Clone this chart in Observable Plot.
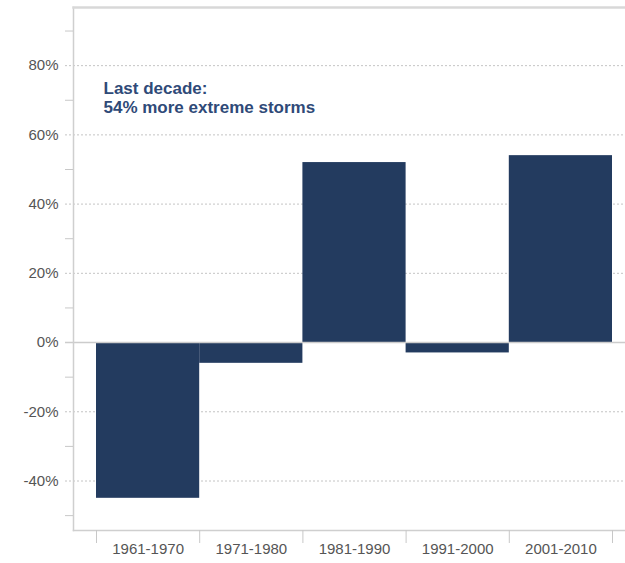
<!DOCTYPE html>
<html>
<head>
<meta charset="utf-8">
<script src="https://cdn.jsdelivr.net/npm/d3@7"></script>
<script src="https://cdn.jsdelivr.net/npm/@observablehq/plot@0.6"></script>
<style>
  html, body { margin: 0; padding: 0; background: #fff; }
  #wrap { position: relative; width: 625px; height: 563px; overflow: hidden; }
  #edge { position: absolute; left: -2px; top: 0; width: 8px; height: 532px;
          border-right: 2px solid #b0b0b0; border-bottom: 2px solid #b0b0b0; }
</style>
</head>
<body>
<div id="wrap"><div id="edge"></div></div>
<script>
const decades = ["1961-1970", "1971-1980", "1981-1990", "1991-2000", "2001-2010"];
const changes = [-45, -6, 52, -3, 54];
const labelTicks = [-40, -20, 0, 20, 40, 60, 80];
const gridTicks = [-40, -20, 20, 40, 60, 80];
const minorTicks = [-50, -30, -10, 10, 30, 50, 70, 90];
const note = "Last decade:\n54% more extreme storms";

const rows = decades.map((d, i) => ({decade: d, idx: i, change: changes[i]}));
const bounds = decades.map((d, i) => i).concat([decades.length]);
const centers = decades.map((d, i) => i + 0.5);

const chart = Plot.plot({
  width: 625,
  height: 563,
  marginLeft: 73,
  marginRight: 0,
  marginTop: 7,
  marginBottom: 33,
  style: {fontFamily: "'Liberation Sans', Arial, sans-serif", fontSize: "15px", color: "#555", background: "#fff"},
  x: {type: "linear", domain: [0, decades.length], insetLeft: 23, insetRight: 13, label: null},
  y: {domain: [-54.3, 96.8], label: null},
  marks: [
    Plot.ruleY(gridTicks, {stroke: "#c4c4c4", strokeDasharray: "2,2", strokeWidth: 1, insetLeft: -8}),
    Plot.rect(rows, {x1: "idx", x2: d => d.idx + 1, y1: 0, y2: "change", fill: "#233b5f"}),
    Plot.ruleY([0], {stroke: "#cccccc", strokeWidth: 1.5, insetLeft: -8}),
    Plot.frame({anchor: "left", stroke: "#cfcfcf", strokeWidth: 1.5}),
    Plot.frame({anchor: "top", stroke: "#d8d8d8", strokeWidth: 2.5}),
    Plot.frame({anchor: "bottom", stroke: "#cfcfcf", strokeWidth: 1.5}),
    Plot.axisY(minorTicks, {tickSize: 8, stroke: "#c8c8c8", tickFormat: () => "", label: null}),
    Plot.axisY(labelTicks, {tickSize: 0, tickPadding: 15, tickFormat: d => d + "%", fill: "#555", fontSize: 15, label: null}),
    Plot.axisX(bounds, {tickSize: 13, stroke: "#c8c8c8", tickFormat: () => "", label: null}),
    Plot.axisX(centers, {tickSize: 0, tickPadding: 13, tickFormat: d => decades[Math.floor(d)], fill: "#555", fontSize: 15, label: null}),
    Plot.text([note], {frameAnchor: "top-left", dx: 30, dy: 73, lineAnchor: "top", textAnchor: "start",
      fontSize: 17, fontWeight: "bold", fill: "#2f4a78", lineHeight: 1.12})
  ]
});
document.getElementById("wrap").appendChild(chart);
chart.style.position = "absolute";
chart.style.left = "0";
chart.style.top = "0";
</script>
</body>
</html>
